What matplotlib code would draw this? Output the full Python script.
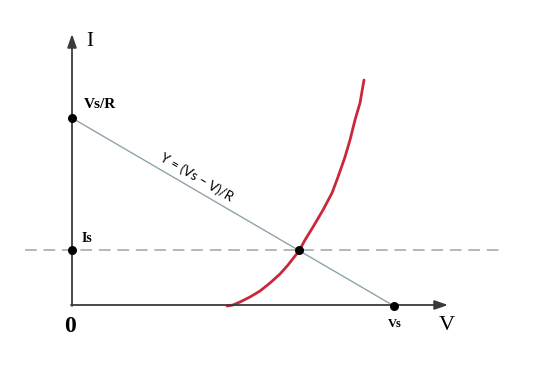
import matplotlib.pyplot as plt
import numpy as np

# values (pixel units, y grows downward)
origin = (72, 305)
vs_over_r = (72, 118)
i_s = (72, 250)
vs = (394, 306)
q_point = (299, 250)

diode_x = [227, 233, 240, 250, 260, 270, 280, 288, 295, 299, 305, 313,
           323, 332, 338, 345, 350, 355, 360, 364]
diode_y = [306, 305, 302, 297, 291, 283, 274, 265, 256, 251, 240, 227,
           210, 193, 177, 157, 140, 120, 103, 80]

fig = plt.figure(figsize=(5.4, 3.66), dpi=100)
ax = fig.add_axes([0, 0, 1, 1])
ax.set_xlim(0, 540)
ax.set_ylim(366, 0)
ax.axis('off')

axis_col = '#3a3a3a'
# axes with arrows
arrow = dict(arrowstyle='-|>,head_width=0.28,head_length=0.8',
             color=axis_col, lw=1.3, shrinkA=0, shrinkB=0)
ax.annotate('', xy=(72, 34), xytext=(72, 306), arrowprops=arrow)
ax.annotate('', xy=(448, 305), xytext=(71, 305), arrowprops=arrow)

# saturation current level
ax.plot([25, 504], [i_s[1], i_s[1]], color='#b4b8b8', lw=1.4,
        dashes=(6, 3.5))

# load line
ax.plot([vs_over_r[0], vs[0]], [vs_over_r[1], vs[1]], color='#8fa3aa', lw=1.0)

# diode curve
ax.plot(diode_x, diode_y, color='#c8283a', lw=2.0,
        solid_capstyle='round', solid_joinstyle='round')

# marker dots
pts = [vs_over_r, i_s, vs, q_point]
ax.scatter([p[0] for p in pts], [p[1] for p in pts], s=30, color='black', zorder=5)

serif = 'Liberation Serif'
ax.text(90, 41, 'I', fontsize=15, family=serif, ha='center', va='center')
ax.text(447, 325, 'V', fontsize=16, family=serif, ha='center', va='center')
ax.text(70, 326, '0', fontsize=17, family=serif, fontweight='bold', ha='center', va='center')
ax.text(84, 104, 'Vs/R', fontsize=11, family=serif, fontweight='bold', ha='left', va='center')
ax.text(82, 239, 'Is', fontsize=10, family=serif, fontweight='bold', ha='left', va='center')
ax.text(395, 324, 'Vs', fontsize=9, family=serif, fontweight='bold', ha='center', va='center')

ax.text(197, 177, 'Y = (Vs – V)/R', fontsize=9.5, family='Lato',
        rotation=-30.3, rotation_mode='anchor', ha='center', va='center')

fig.savefig('out.png', dpi=100, facecolor='white')
